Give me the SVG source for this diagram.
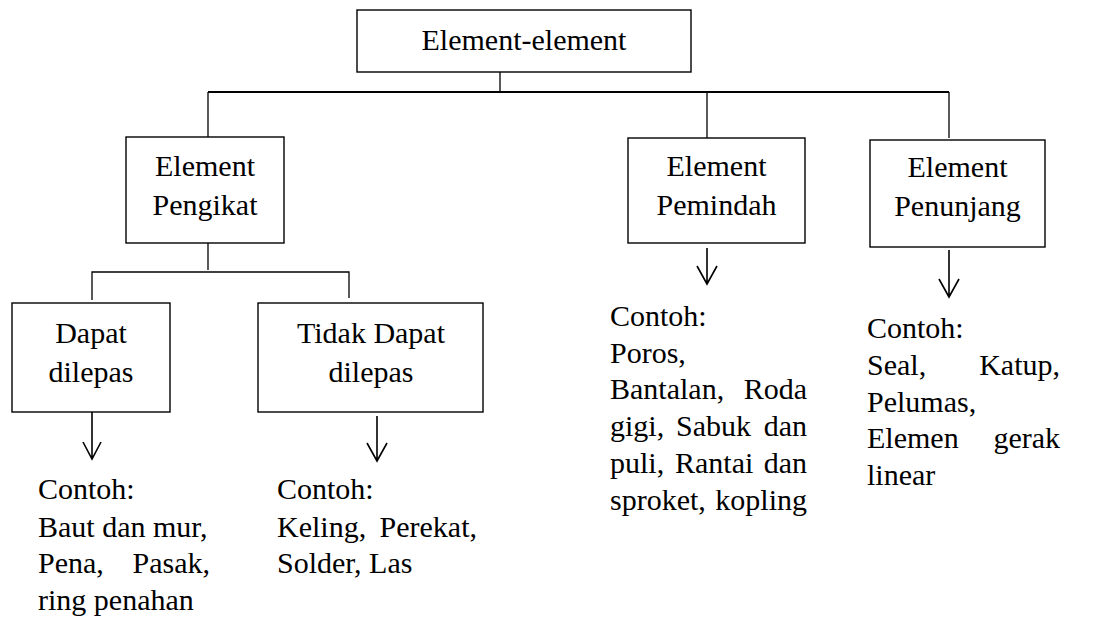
<svg xmlns="http://www.w3.org/2000/svg" width="1097" height="619" viewBox="0 0 1097 619">
  <style>
    .box { fill: #fff; stroke: #000; stroke-width: 1.4; }
    .ln { fill: none; stroke: #000; stroke-width: 1.3; }
    .bus { fill: none; stroke: #000; stroke-width: 2; }
    .arr { fill: none; stroke: #000; stroke-width: 1.6; }
    text { font-family: 'Liberation Serif', 'Times New Roman', serif; font-size: 30px; fill: #000; }
    .c { text-anchor: middle; }
    .e { text-anchor: end; }
  </style>

  <!-- connectors -->
  <g id="connectors">
    <path class="ln" d="M500,72 V92"/>
    <path class="bus" d="M208,92 H949"/>
    <path class="ln" d="M208,92 V137"/>
    <path class="ln" d="M707,93 V138"/>
    <path class="ln" d="M949,92 V138"/>
    <path class="ln" d="M208,243 V270"/>
    <path class="ln" d="M92,300 V272 H349 V298"/>
    <!-- arrows to the example lists -->
    <path class="arr" d="M92,412 V459 M83,442 L92,459 L101,442"/>
    <path class="arr" d="M377,416 V461 M367,443 L377,461 L387,443"/>
    <path class="arr" d="M707,248 V284 M697,266 L707,284 L717,266"/>
    <path class="arr" d="M949,250 V297 M939,279 L949,297 L959,279"/>
  </g>

  <g id="root">
    <rect class="box" x="357" y="10" width="334" height="62"/>
    <text class="c" x="524" y="50" font-family="Liberation Serif">Element-element</text>
  </g>

  <g id="pengikat">
    <rect class="box" x="126" y="137" width="158" height="106"/>
    <text class="c" x="205" y="176" font-family="Liberation Serif">Element</text>
    <text class="c" x="205" y="215" font-family="Liberation Serif">Pengikat</text>
  </g>

  <g id="pemindah">
    <rect class="box" x="628" y="138" width="177" height="105"/>
    <text class="c" x="716.5" y="176" font-family="Liberation Serif">Element</text>
    <text class="c" x="716.5" y="215" font-family="Liberation Serif">Pemindah</text>
  </g>

  <g id="penunjang">
    <rect class="box" x="870" y="140" width="175" height="107"/>
    <text class="c" x="957.5" y="177" font-family="Liberation Serif">Element</text>
    <text class="c" x="957.5" y="216" font-family="Liberation Serif">Penunjang</text>
  </g>

  <g id="dapat">
    <rect class="box" x="12" y="303" width="158" height="109"/>
    <text class="c" x="91" y="343" font-family="Liberation Serif">Dapat</text>
    <text class="c" x="91" y="382" font-family="Liberation Serif">dilepas</text>
  </g>

  <g id="tidak-dapat">
    <rect class="box" x="258" y="303" width="225" height="109"/>
    <text class="c" x="371" y="343" font-family="Liberation Serif">Tidak Dapat</text>
    <text class="c" x="371" y="382" font-family="Liberation Serif">dilepas</text>
  </g>

  <!-- example lists, justified lines set word by word -->
  <g id="contoh-dapat">
    <text x="38" y="499" font-family="Liberation Serif">Contoh:</text>
    <text x="38" y="537" font-family="Liberation Serif">Baut dan mur,</text>
    <text x="38" y="573" font-family="Liberation Serif">Pena,</text>
    <text class="e" x="210" y="573" font-family="Liberation Serif">Pasak,</text>
    <text x="38" y="610" font-family="Liberation Serif">ring penahan</text>
  </g>

  <g id="contoh-tidak">
    <text x="277" y="499" font-family="Liberation Serif">Contoh:</text>
    <text x="277" y="537" font-family="Liberation Serif">Keling,</text>
    <text class="e" x="477" y="537" font-family="Liberation Serif">Perekat,</text>
    <text x="277" y="573" font-family="Liberation Serif">Solder, Las</text>
  </g>

  <g id="contoh-pemindah">
    <text x="610" y="326" font-family="Liberation Serif">Contoh:</text>
    <text x="610" y="363" font-family="Liberation Serif">Poros,</text>
    <text x="610" y="399" font-family="Liberation Serif">Bantalan,</text>
    <text class="e" x="807" y="399" font-family="Liberation Serif">Roda</text>
    <text x="610" y="436" font-family="Liberation Serif">gigi,</text>
    <text x="676" y="436" font-family="Liberation Serif">Sabuk</text>
    <text class="e" x="807" y="436" font-family="Liberation Serif">dan</text>
    <text x="610" y="473" font-family="Liberation Serif">puli,</text>
    <text x="675" y="473" font-family="Liberation Serif">Rantai</text>
    <text class="e" x="807" y="473" font-family="Liberation Serif">dan</text>
    <text x="610" y="510" font-family="Liberation Serif">sproket,</text>
    <text class="e" x="807" y="510" font-family="Liberation Serif">kopling</text>
  </g>

  <g id="contoh-penunjang">
    <text x="867" y="338" font-family="Liberation Serif">Contoh:</text>
    <text x="867" y="375" font-family="Liberation Serif">Seal,</text>
    <text class="e" x="1060" y="375" font-family="Liberation Serif">Katup,</text>
    <text x="867" y="412" font-family="Liberation Serif">Pelumas,</text>
    <text x="867" y="448" font-family="Liberation Serif">Elemen</text>
    <text class="e" x="1060" y="448" font-family="Liberation Serif">gerak</text>
    <text x="867" y="485" font-family="Liberation Serif">linear</text>
  </g>
</svg>
